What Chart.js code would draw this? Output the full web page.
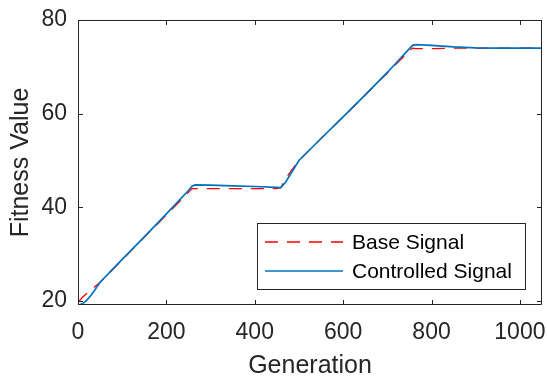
<!DOCTYPE html>
<html>
<head>
<meta charset="utf-8">
<script src="https://cdn.jsdelivr.net/npm/chart.js@4"></script>
<style>
  html, body { margin: 0; padding: 0; background: #fff; }
  #wrap { width: 547px; height: 376px; }
</style>
</head>
<body>
<div id="wrap"><canvas id="myChart"></canvas></div>
<script>
// values
const generations = [0, 10, 20, 30, 40, 50, 100, 150, 200, 250, 258, 265, 300, 350, 400, 450, 459, 470, 500, 550, 600, 650, 700, 750, 757, 765, 800, 850, 900, 950, 1000, 1050];
const baseSignal = [19.7, 20.8, 21.6, 22.4, 23.2, 24.0, 28.8, 33.6, 38.4, 43.2, 44.0, 44.0, 44.0, 44.0, 44.0, 44.0, 44.2, 46.2, 50.0, 54.7, 59.3, 64.0, 68.7, 73.4, 74.0, 73.9, 73.9, 74.0, 74.0, 74.0, 74.0, 74.0];
const controlledSignal = [19.1, 19.4, 20.2, 21.3, 22.6, 24.0, 28.9, 33.7, 38.6, 43.6, 44.5, 44.8, 44.75, 44.6, 44.45, 44.25, 44.2, 45.4, 50.0, 54.7, 59.3, 64.0, 68.8, 73.9, 74.6, 74.75, 74.6, 74.25, 74.05, 74.0, 74.0, 74.0];
const xTicks = [0, 200, 400, 600, 800, 1000];
const yTicks = [20, 40, 60, 80];

const axisColor = '#262626';
const fontFamily = '"Liberation Sans", Arial, Helvetica, sans-serif';

const ctx = document.getElementById('myChart').getContext('2d');

// box around the axes with inward ticks, matlab style
const boxPlugin = {
  id: 'boxAxes',
  afterDatasetsDraw(chart) {
    const c = chart.ctx;
    const a = chart.chartArea;
    const xs = chart.scales.x, ys = chart.scales.y;
    const tl = 5;
    c.save();
    c.strokeStyle = axisColor;
    c.lineWidth = 1;
    c.beginPath();
    c.rect(a.left + 0.5, a.top + 0.5, a.right - a.left - 1, a.bottom - a.top - 1);
    xTicks.forEach(v => {
      const px = Math.round(xs.getPixelForValue(v)) + 0.5;
      c.moveTo(px, a.bottom); c.lineTo(px, a.bottom - tl);
      c.moveTo(px, a.top); c.lineTo(px, a.top + tl);
    });
    yTicks.forEach(v => {
      const py = Math.round(ys.getPixelForValue(v)) + 0.5;
      c.moveTo(a.left, py); c.lineTo(a.left + tl, py);
      c.moveTo(a.right, py); c.lineTo(a.right - tl, py);
    });
    c.stroke();
    c.restore();
  }
};

// legend drawn inside the plot, lower right
const legendPlugin = {
  id: 'insideLegend',
  afterDraw(chart) {
    const c = chart.ctx;
    const a = chart.chartArea;
    const w = 268, h = 66;
    const x0 = a.right - 17 - w, y0 = a.bottom - 16 - h;
    c.save();
    c.fillStyle = '#fff';
    c.fillRect(x0, y0, w, h);
    c.strokeStyle = axisColor;
    c.lineWidth = 1;
    c.strokeRect(x0 + 0.5, y0 + 0.5, w, h);
    c.font = '21px ' + fontFamily;
    c.textBaseline = 'middle';
    c.fillStyle = '#000';
    chart.data.datasets.forEach((ds, i) => {
      const y = y0 + 19 + i * 29;
      c.strokeStyle = ds.borderColor;
      c.lineWidth = ds.borderWidth;
      c.setLineDash(ds.borderDash || []);
      c.beginPath();
      c.moveTo(x0 + 8, y);
      c.lineTo(x0 + 86, y);
      c.stroke();
      c.setLineDash([]);
      c.fillText(ds.label, x0 + 95, y + 1);
    });
    c.restore();
  }
};

const myChart = new Chart(ctx, {
  type: 'line',
  data: {
    datasets: [
      {
        label: 'Base Signal',
        data: generations.map((g, i) => ({ x: g, y: baseSignal[i] })),
        borderColor: '#ff0000',
        borderWidth: 1.3,
        borderDash: [13, 9],
        pointRadius: 0,
        tension: 0,
        order: 1
      },
      {
        label: 'Controlled Signal',
        data: generations.map((g, i) => ({ x: g, y: controlledSignal[i] })),
        borderColor: '#0072bd',
        borderWidth: 1.7,
        pointRadius: 0,
        tension: 0,
        order: 0
      }
    ]
  },
  options: {
    responsive: true,
    maintainAspectRatio: false,
    animation: false,
    layout: { padding: { left: 0, top: 20, right: 5, bottom: 0 } },
    plugins: { legend: { display: false }, tooltip: { enabled: false } },
    scales: {
      x: {
        type: 'linear',
        min: 0,
        max: 1050,
        afterBuildTicks: s => { s.ticks = xTicks.map(v => ({ value: v })); },
        afterFit: s => { s.height = 71; s.paddingLeft = 0; s.paddingRight = 0; },
        grid: { display: false, drawTicks: false },
        border: { display: false },
        ticks: {
          color: axisColor, padding: 14, maxRotation: 0,
          font: { family: fontFamily, size: 23 },
          callback: v => String(v)
        },
        title: {
          display: true, text: 'Generation', color: axisColor,
          font: { family: fontFamily, size: 25, lineHeight: 0.76 },
          padding: { top: 0, bottom: 0 }
        }
      },
      y: {
        min: 19.15,
        max: 80,
        afterBuildTicks: s => { s.ticks = yTicks.map(v => ({ value: v })); },
        afterFit: s => { s.width = 78; s.paddingTop = 0; s.paddingBottom = 0; },
        grid: { display: false, drawTicks: false },
        border: { display: false },
        ticks: { color: axisColor, padding: 11, font: { family: fontFamily, size: 23 }, callback: v => String(v) },
        title: {
          display: true, text: 'Fitness Value', color: axisColor,
          font: { family: fontFamily, size: 25, lineHeight: 1 },
          padding: { top: 9, bottom: 0 }
        }
      }
    }
  },
  plugins: [boxPlugin, legendPlugin]
});
</script>
</body>
</html>
